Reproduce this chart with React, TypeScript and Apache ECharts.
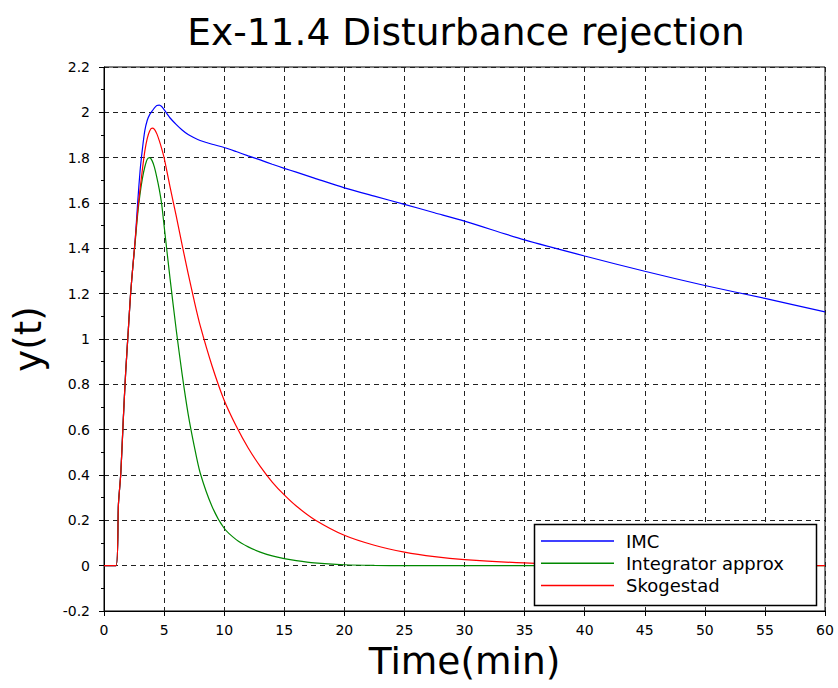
import React, { useEffect, useRef } from "react";
import * as echarts from "echarts";

const timeMin = [
  0, 1, 1.2, 1.4, 1.6, 1.8, 2, 2.2, 2.4, 2.6, 2.8, 3, 3.2, 3.4, 3.6, 3.8, 4, 4.2, 4.4, 4.6, 4.8, 5,
  5.5, 6, 6.5, 7, 7.5, 8, 9, 10, 11, 12, 13, 14, 15, 16, 17.5, 20, 22.5, 25, 27.5, 30, 35, 40, 45, 50, 55, 60,
];

const imc = [
  0, 0, 0.27, 0.41, 0.64, 0.85, 1.02, 1.19, 1.32, 1.44, 1.6, 1.74, 1.84, 1.92, 1.965, 1.99, 2.005, 2.02,
  2.03, 2.032, 2.026, 2.012, 1.975, 1.947, 1.922, 1.902, 1.888, 1.876, 1.859, 1.845, 1.827, 1.808, 1.79,
  1.771, 1.753, 1.736, 1.71, 1.667, 1.63, 1.594, 1.557, 1.52, 1.437, 1.366, 1.299, 1.236, 1.179, 1.12,
];

const integratorApprox = [
  0, 0, 0.27, 0.41, 0.64, 0.85, 1.02, 1.19, 1.32, 1.43, 1.55, 1.64, 1.71, 1.76, 1.793, 1.8, 1.787, 1.757,
  1.712, 1.66, 1.595, 1.5, 1.265, 1.045, 0.845, 0.67, 0.53, 0.41, 0.26, 0.165, 0.115, 0.083, 0.06, 0.043,
  0.031, 0.022, 0.012, 0.004, 0.001, 0, 0, 0, 0, 0, 0, 0, 0, 0,
];

const skogestad = [
  0, 0, 0.27, 0.41, 0.64, 0.85, 1.02, 1.19, 1.32, 1.44, 1.565, 1.66, 1.75, 1.83, 1.885, 1.918, 1.93, 1.925,
  1.905, 1.875, 1.84, 1.8, 1.67, 1.545, 1.415, 1.29, 1.17, 1.06, 0.88, 0.73, 0.616, 0.519, 0.438, 0.369,
  0.312, 0.263, 0.204, 0.134, 0.09, 0.06, 0.04, 0.027, 0.012, 0.005, 0.002, 0.001, 0, 0,
];

const seriesNames = ["IMC", "Integrator approx", "Skogestad"];
const seriesColors = ["#0000ff", "#008800", "#ff0000"];

const FONT = "DejaVu Sans";

export default function App() {
  const ref = useRef<HTMLDivElement>(null);

  useEffect(() => {
    if (!ref.current) return;
    const chart = echarts.init(ref.current, undefined, { renderer: "svg" });
    const values = [imc, integratorApprox, skogestad];
    const grid = { left: 104, right: 13, top: 67, bottom: 77 };

    chart.setOption({
      animation: false,
      backgroundColor: "#ffffff",
      textStyle: { fontFamily: FONT },
      grid: { ...grid, show: true, borderColor: "#000", borderWidth: 1, backgroundColor: "transparent" },
      graphic: [
        {
          type: "text",
          x: 466,
          y: 32,
          style: {
            text: "Ex-11.4 Disturbance rejection",
            fontSize: 37.5,
            fontFamily: FONT,
            fill: "#000",
            textAlign: "center",
            textVerticalAlign: "middle",
          },
        },
        {
          type: "rect",
          z: 10,
          shape: { x: 534.5, y: 524.5, width: 282, height: 81 },
          style: { fill: "#fff", stroke: "#000", lineWidth: 1.5 },
        },
      ],
      legend: {
        z: 20,
        orient: "vertical",
        left: 534,
        top: 525,
        padding: [6, 10, 8, 7],
        itemGap: 2.3,
        itemWidth: 73,
        itemHeight: 1.5,
        icon: "rect",
        data: seriesNames,
        textStyle: { fontFamily: FONT, fontSize: 18, color: "#000", lineHeight: 20, padding: [0, 0, 0, 7] },
      },
      xAxis: {
        type: "value",
        min: 0,
        max: 60,
        interval: 5,
        name: "Time(min)",
        nameLocation: "middle",
        nameGap: 31,
        nameTextStyle: { fontFamily: FONT, fontSize: 37.5, color: "#000" },
        axisLine: { show: true, onZero: false, lineStyle: { color: "#000", width: 1 } },
        axisTick: { show: true, length: 5, lineStyle: { color: "#000" } },
        axisLabel: { fontFamily: FONT, fontSize: 14, color: "#000", margin: 12 },
        splitLine: { show: true, lineStyle: { color: "#222", type: [5, 4], width: 1 } },
      },
      yAxis: {
        type: "value",
        min: -0.2,
        max: 2.2,
        interval: 0.2,
        name: "y(t)",
        nameLocation: "middle",
        nameRotate: 90,
        nameGap: 57,
        nameTextStyle: { fontFamily: FONT, fontSize: 37, color: "#000" },
        axisLine: { show: true, onZero: false, lineStyle: { color: "#000", width: 1 } },
        axisTick: { show: true, length: 5, lineStyle: { color: "#000" } },
        minorTick: { show: true, splitNumber: 2, length: 3, lineStyle: { color: "#000" } },
        axisLabel: {
          fontFamily: FONT,
          fontSize: 14,
          color: "#000",
          margin: 14,
          formatter: (v: number) => String(Math.round(v * 10) / 10),
        },
        splitLine: { show: true, lineStyle: { color: "#222", type: [5, 4], width: 1 } },
      },
      series: seriesNames.map((name, i) => ({
        name,
        type: "line",
        data: timeMin.map((t, k) => [t, values[i][k]]),
        showSymbol: false,
        symbol: "none",
        smooth: 0.25,
        lineStyle: { color: seriesColors[i], width: 1.2 },
        itemStyle: { color: seriesColors[i] },
        z: 3,
      })),
    });

    return () => chart.dispose();
  }, []);

  return (
    <div
      ref={ref}
      style={{ position: "fixed", left: 0, top: 0, width: 838, height: 688, background: "#fff" }}
    />
  );
}
